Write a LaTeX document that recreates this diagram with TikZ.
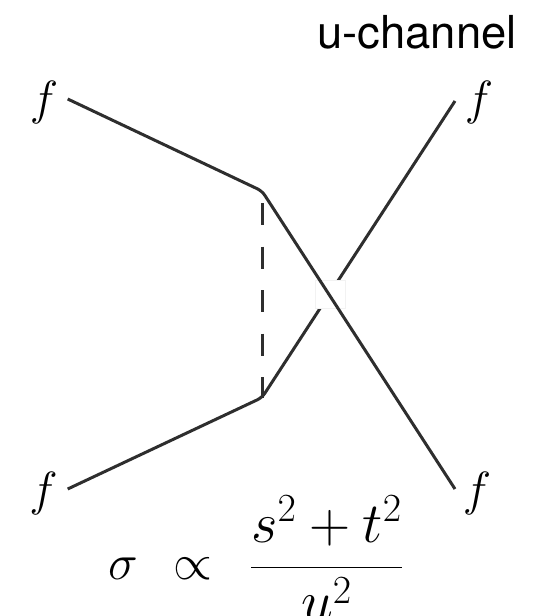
\RequirePackage{fix-cm}
\documentclass[tikz,border=0pt]{standalone}
\usepackage{fontspec}
\newfontfamily\labfont{TeX Gyre Heros}
\begin{document}
\begin{tikzpicture}[x=1pt,y=-1pt,
  fermion/.style={line width=3pt,draw=black!82,rounded corners=5pt,line cap=butt},
  scalar/.style={line width=3pt,draw=black!82,dash pattern=on 22pt off 21.5pt},
  flabel/.style={inner sep=0pt,font=\fontsize{48}{48}\selectfont},
  mathlab/.style={inner sep=0pt,anchor=base,font=\fontsize{50}{50}\selectfont},
  gapbox/.style={fill=white,draw=black!5,line width=0.5pt}]
\useasboundingbox (0,0) rectangle (544,616);
\clip (0,0) rectangle (544,616);
% title
\node[inner sep=0pt,anchor=base east,font=\labfont\fontsize{45.4}{46}\selectfont] (title) at (517,48) {u-channel};
% external labels
\node[flabel] (ftl) at (44,102.5) {$f$};
\node[flabel] (ftr) at (479,102.5) {$f$};
\node[flabel] (fbl) at (43.5,493) {$f$};
\node[flabel] (fbr) at (477,493) {$f$};
% vertices and line ends
\coordinate (vu) at (262,191);
\coordinate (vl) at (262,397.6);
\coordinate (etl) at (67.7,99);
\coordinate (etr) at (455,101);
\coordinate (ebl) at (67.7,489);
\coordinate (ebr) at (455,489);
\coordinate (du) at (262,203);
% scalar exchange
\draw[scalar] (du) -- (vl);
% lower fermion line
\draw[fermion] (ebl) -- (vl) -- (etr);
% gap at the crossing
\node[gapbox,minimum width=30pt,minimum height=28pt,inner sep=0pt] (gap) at (330,294) {};
% upper fermion line
\draw[fermion] (etl) -- (vu) -- (ebr);
% formula
\node[mathlab] (sig) at (123,579) {$\sigma$};
\node[mathlab] (prop) at (192.5,579) {$\propto$};
\node[mathlab,font=\fontsize{57}{57}\selectfont] (frac) at (326.5,581) {$\displaystyle\frac{s^2+t^2}{u^2}$};
\end{tikzpicture}
\end{document}
